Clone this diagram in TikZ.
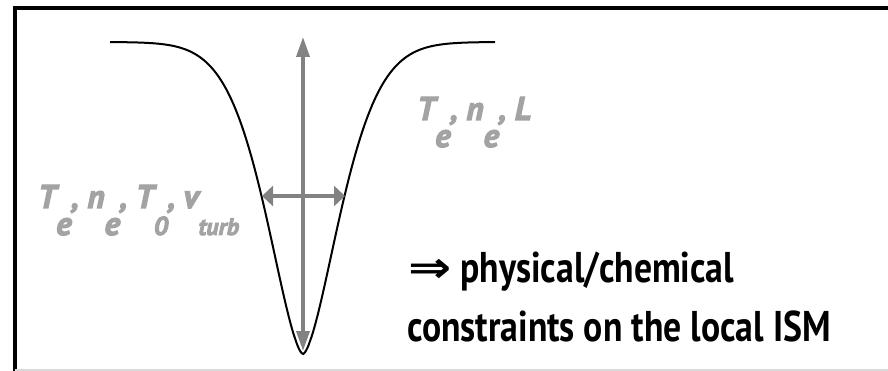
\documentclass[tikz,border=0pt]{standalone}
\usepackage{fontspec}
\setmainfont{PT Sans}
\newfontfamily\narrowfont[FakeStretch=0.83]{PT Sans}
\newfontfamily\paramfont[BoldItalicFeatures={FakeBold=3.5}]{PT Sans}
\newfontfamily\arrowfont{DejaVu Sans}
\usepackage{graphicx}
\usepackage{tikz}
\usetikzlibrary{arrows.meta,positioning,calc}
\definecolor{paramgray}{RGB}{163,163,163}
\definecolor{arrowgray}{RGB}{130,130,130}
\newcommand{\lowsub}[1]{\raisebox{-27pt}{#1}}
\newcommand{\lowsmall}[2]{\raisebox{-27pt}{\fontsize{#1}{#1}\selectfont #2}}

\begin{document}
\begin{tikzpicture}[x=1pt,y=-1pt,
  param/.style={text=paramgray,font=\paramfont\fontsize{33}{40}\selectfont\bfseries\itshape,inner sep=0pt,anchor=base west},
  result/.style={text=black,font=\narrowfont\fontsize{43}{50}\selectfont\bfseries,inner sep=0pt,anchor=base west},
  vboth/.style={{Triangle[length=20pt,width=13pt]}-{Triangle[length=20pt,width=13pt]},draw=arrowgray,line width=3.5pt},
  hboth/.style={{Triangle[length=11pt,width=20pt]}-{Triangle[length=11pt,width=20pt]},draw=arrowgray,line width=4.5pt}]
  \useasboundingbox (0,0) rectangle (888,371); % 画像全体の大きさ
  \draw[line width=4pt] (15,371) -- (15,8) -- (888,8); % 左と上の黒い枠線
  \draw[black!15,line width=2pt] (15,370) -- (888,370); % 下の薄い灰色の線
  \draw[line width=2pt] plot[domain=110:495,samples=240] (\x,{42+312*exp(-pow((abs(\x-303)+0.01)/51.6,1.6))}); % 吸収線のプロファイル
  \coordinate (top) at (303,37); % 縦矢印の上端
  \coordinate (bottom) at (303,351); % 縦矢印の下端（線の中心）
  \coordinate (left) at (262,196); % 半値幅の左端
  \coordinate (right) at (345,196); % 半値幅の右端
  \draw[vboth] (bottom) -- (top); % 線の深さを示す縦矢印
  \draw[hboth] (left) -- (right); % 線幅を示す横矢印
  \node[param] (depth) at (417,120) {T\lowsub{e}, n\lowsub{e}, L}; % 深さから決まる量
  \node[param] (width) at (38,208) {T\lowsub{e}, n\lowsub{e}, T\lowsmall{26}{0}, v\lowsmall{24}{turb}}; % 幅から決まる量
  \node[result] (line1) at (408,282) {{\arrowfont\bfseries\scalebox{1.2}[1]{⇒}} physical/chemical}; % 結論の1行目
  \node[result] (line2) at (407,341) {constraints on the local ISM}; % 結論の2行目
\end{tikzpicture}
\end{document}
